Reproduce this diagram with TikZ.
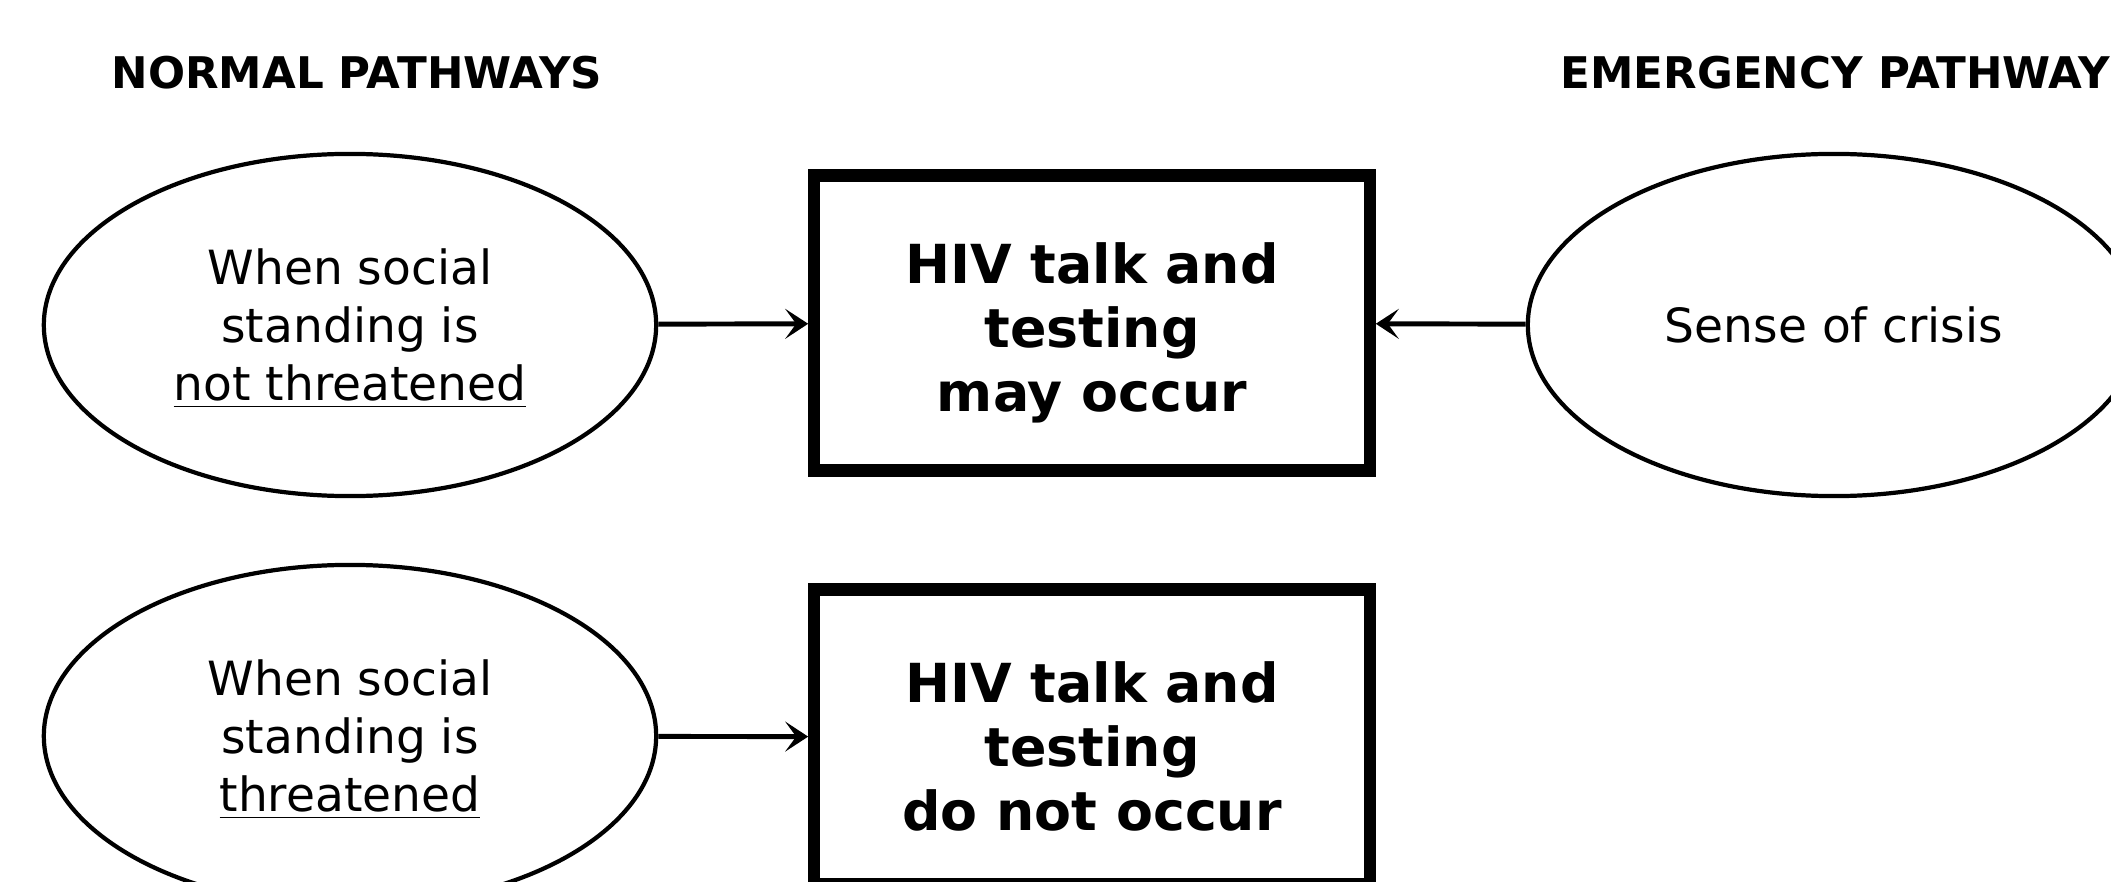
\documentclass[tikz,border=0pt]{standalone}
\usepackage{fontspec}
\setmainfont{DejaVu Sans}
\usetikzlibrary{shapes.geometric}
\usetikzlibrary{arrows.meta}
\newcommand{\causeStrut}{\rule{0pt}{12.4pt}}
\newcommand{\outcomeStrut}{\rule{0pt}{17pt}}

\begin{document}
\begin{tikzpicture}
[x=0.01cm,y=-0.01cm,%
  causeNode/.style={ellipse,draw,line width=1.2pt,minimum width=6.12cm,
    minimum height=3.42cm,inner sep=0pt,align=center,
    font=\fontsize{13.4}{16.5}\selectfont},
  outcomeNode/.style={rectangle,draw,line width=3.5pt,minimum width=5.55cm,
    minimum height=2.95cm,inner sep=0pt,align=center,
    font=\fontsize{15.3}{18.2}\selectfont\bfseries},
  titleNode/.style={inner sep=0pt,font=\fontsize{12.4}{15}\selectfont\bfseries},
  lineDecorate/.style={-{Stealth[length=2.3mm,width=3mm,inset=1.1mm]},
    line width=1.4pt}]
\useasboundingbox (0,0) rectangle (2111,882);
\clip (0,0) rectangle (2111,882);
%% titles
\node[titleNode] (normalTitle) at (357,73) {NORMAL PATHWAYS};
\node[titleNode,anchor=west] (emergencyTitle) at (1560,73) {EMERGENCY PATHWAY};
%% conditions
\foreach \nodename/\x/\y/\txt in {
  safe/350/325/{\causeStrut When social\\standing is\\\underline{not threatened}},
  threat/350/736/{\causeStrut When social\\standing is\\\underline{threatened}},
  crisis/1834/325/{Sense of crisis}}
{
  \node[causeNode] (\nodename) at (\x,\y) {\txt};
}
%% outcomes
\foreach \nodename/\x/\y/\txt in {
  occur/1092/323/{\outcomeStrut HIV talk and\\testing\\may occur},
  noOccur/1092/737/{\outcomeStrut HIV talk and\\testing\\do not occur}}
{
  \node[outcomeNode] (\nodename) at (\x,\y) {\txt};
}
%% arrows
\path
\foreach \startnode/\endnode in {
  safe/occur, threat/noOccur, crisis/occur}
{
  (\startnode) edge[lineDecorate] (\endnode)
};
\end{tikzpicture}
\end{document}
